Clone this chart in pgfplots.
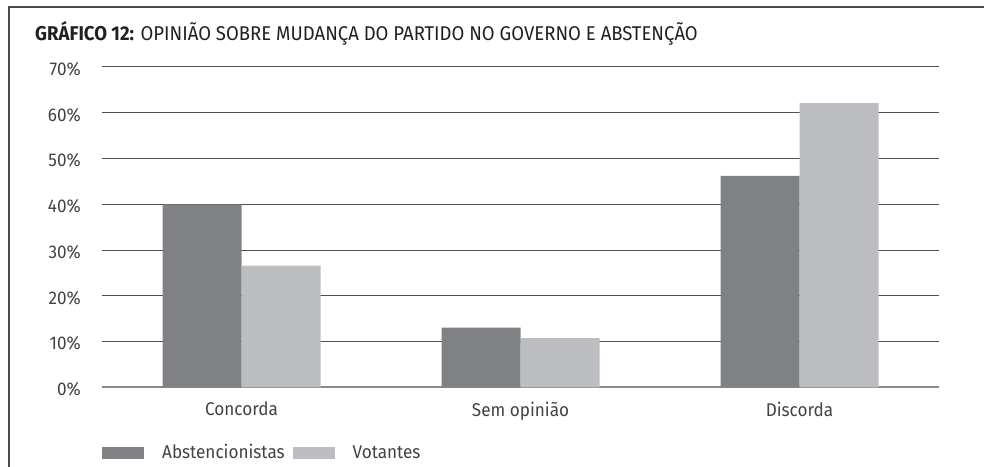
\documentclass[border=0pt]{standalone}
\usepackage{fontspec}
\setmainfont{Fira Sans}[FakeStretch=0.93]
\usepackage{pgfplots}
\pgfplotsset{compat=1.18}
\definecolor{abst}{HTML}{808184}
\definecolor{vot}{HTML}{BCBDC0}
\definecolor{gridc}{HTML}{505050}
\definecolor{axisc}{HTML}{8A8A8A}
\definecolor{txt}{HTML}{231F20}
\definecolor{framec}{HTML}{4A4A4A}
\begin{document}
\begin{tikzpicture}[x=1bp,y=1bp]
\path[use as bounding box] (0,0) rectangle (984,467);
\draw[line width=1.5bp, color=framec] (9,0) -- (9,460) -- (984,460);
\node[anchor=base west, inner sep=0pt, text=txt, font=\fontsize{20}{24}\selectfont] at (35,426.3) {\textbf{GRÁFICO 12:} OPINIÃO SOBRE MUDANÇA DO PARTIDO NO GOVERNO E ABSTENÇÃO};
\begin{axis}[
  at={(102bp,79.5bp)}, anchor=south west,
  scale only axis, width=837bp, height=320.5bp,
  xmin=-0.5, xmax=2.5, ymin=0, ymax=70,
  ybar=0pt, bar width=79bp,
  xtick={0,1,2}, xticklabels={Concorda, Sem opinião, Discorda},
  ytick={0,10,...,70}, yticklabel={\pgfmathprintnumber{\tick}\%},
  major tick length=0pt,
  axis x line=bottom, axis y line=left,
  x axis line style={color=axisc, line width=2bp, -},
  y axis line style={draw=none},
  ymajorgrids, grid style={color=gridc, line width=1bp},
  tick label style={font=\fontsize{18.5}{21}\selectfont, text=txt!85},
  yticklabel style={inner sep=0pt, anchor=east, xshift=-21bp, yshift=-2bp},
  xticklabel style={inner sep=0pt, anchor=north, yshift=-14bp},
  /pgf/number format/assume math mode=true,
  legend columns=2,
  legend style={draw=none, fill=none, inner sep=0pt, at={(axis description cs:0.0,-0.203)}, anchor=west,
    font=\fontsize{18.5}{21}\selectfont, text=txt!85,
    /tikz/every odd column/.append style={column sep=5bp},
    /tikz/every even column/.append style={column sep=6bp}},
  legend image code/.code={\fill[#1] (0bp,-6bp) rectangle (42bp,6bp); \path (53bp,0bp);},
]
\addplot[fill=abst, draw=none] coordinates {(0,40.0) (1,13.1) (2,46.2)};
\addplot[fill=vot, draw=none] coordinates {(0,26.6) (1,10.8) (2,62.1)};
\legend{Abstencionistas, Votantes}
\end{axis}
\end{tikzpicture}
\end{document}
